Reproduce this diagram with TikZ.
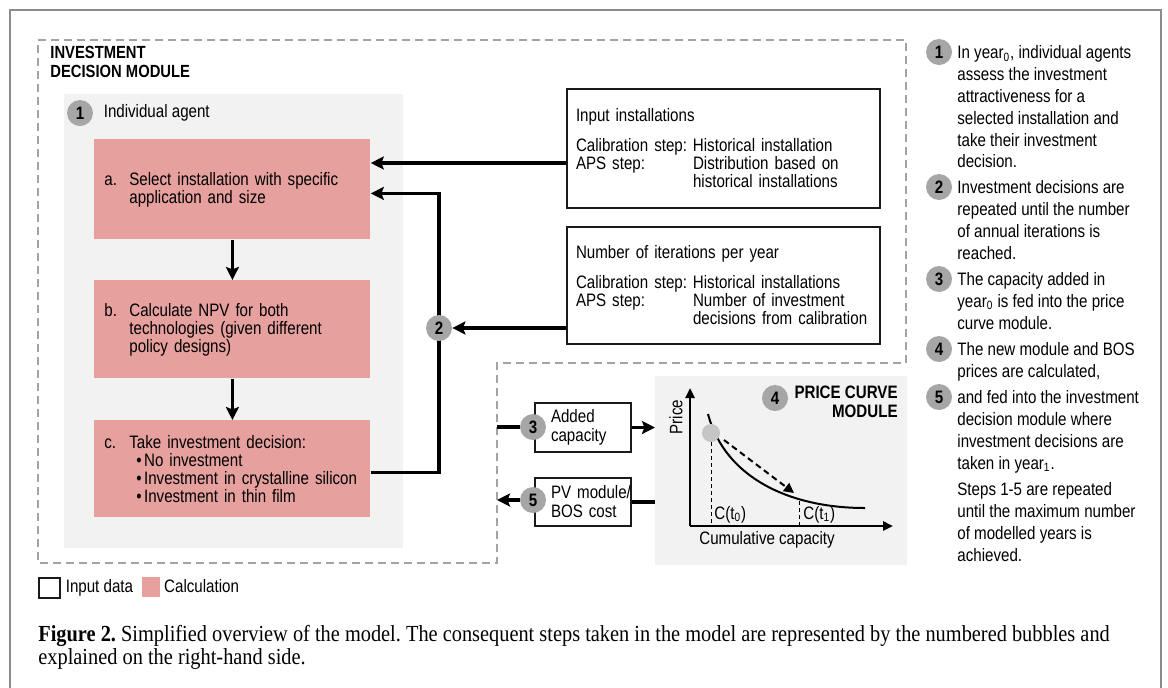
\documentclass[tikz,border=0pt]{standalone}
\usepackage{fontspec}
\setmainfont{Liberation Sans}[FakeStretch=0.84]
\newfontfamily\capfont{Liberation Serif}[FakeStretch=0.885]
\usetikzlibrary{arrows.meta,positioning}
\usepackage{xcolor}
\definecolor{Calc}{HTML}{E6A19E}
\definecolor{Panel}{HTML}{F2F2F2}
\definecolor{Bubble}{HTML}{A6A6A6}
\definecolor{DashGrey}{HTML}{A3A3A3}
\definecolor{Frame}{HTML}{8C8C8C}
\definecolor{Ink}{HTML}{1A1A1A}

\newcommand{\boxlbl}[1]{\makebox[12.5pt][l]{#1}}
\newcommand{\boxgap}{\hspace*{12.5pt}}
\newcommand{\boxcol}[1]{\makebox[58.5pt][l]{#1}}
\frenchspacing

\begin{document}
\begin{tikzpicture}[x=0.5pt,y=-0.5pt,font=\fontsize{9}{9}\selectfont,
  calcbox/.style={fill=Calc,text width=128pt,inner xsep=5pt,inner ysep=0pt,
    align=left,anchor=north west},
  inbox/.style={draw=Ink,line width=1pt,fill=white,align=left,anchor=north west,
    text width=147.5pt,inner xsep=4.5pt,inner ysep=0pt},
  smallbox/.style={draw=Ink,line width=1pt,fill=white,align=left,anchor=north west,
    text width=48pt,inner sep=0pt,font=\fontsize{9}{9.5}\selectfont},
  bubble/.style={circle,fill=Bubble,minimum size=13pt,inner sep=0pt,
    font=\fontsize{9}{9}\selectfont\bfseries},
  flow/.style={line width=1.7pt,-{Stealth[length=6.5pt,width=6.5pt,inset=1.2pt]}},
  link/.style={line width=1.7pt},
  modline/.style={draw=DashGrey,line width=0.9pt,dash pattern=on 4pt off 2.5pt},
  panel/.style={fill=Panel,anchor=north west,inner sep=0pt},
  legtext/.style={inner sep=0pt,text height=6.5pt,text depth=1.8pt},
  note/.style={anchor=north west,align=left,inner sep=0pt,font=\fontsize{9}{10.9}\selectfont}
]
\useasboundingbox (0,0) rectangle (1168,687);
\draw[Frame,line width=0.8pt] (10,700) -- (10,10) -- (1161,10) -- (1161,700);

% investment decision module
\draw[modline] (38,40) -- (906,40) -- (906,363) -- (497,363) -- (497,563) -- (38,563) -- cycle;
\node[anchor=north west,align=left,inner sep=0pt,font=\fontsize{8.8}{9.5}\selectfont\bfseries]
  (idmtitle) at (50,46) {INVESTMENT\\DECISION MODULE};

\node[panel,minimum width=169.5pt,minimum height=227pt] (agent) at (64,94) {};
\node[bubble] (b1) at (80,113) {1};
\node[right=5pt of b1,inner sep=0pt] (agentlbl) {Individual agent};

\node[calcbox,minimum height=50pt] (sel) at (94,139)
  {\boxlbl{a.}Select installation with specific\\\boxgap application and size};
\node[calcbox,minimum height=49pt] (npv) at (94,280)
  {\boxlbl{b.}Calculate NPV for both\\\boxgap technologies (given different\\\boxgap policy designs)};
\node[calcbox,minimum height=48.5pt] (dec) at (94,420)
  {\boxlbl{c.}Take investment decision:\\
   \hspace*{16pt}\textbullet\hspace{1.2pt}No investment\\
   \hspace*{16pt}\textbullet\hspace{1.2pt}Investment in crystalline silicon\\
   \hspace*{16pt}\textbullet\hspace{1.2pt}Investment in thin film};

\node[inbox,minimum height=59.5pt] (inst) at (566,88)
  {Input installations\\[6pt]
   \boxcol{Calibration step:}Historical installation\\
   \boxcol{APS step:}Distribution based on\\
   \hspace*{58.5pt}historical installations};
\node[inbox,minimum height=58.5pt] (iter) at (566,226)
  {Number of iterations per year\\[6pt]
   \boxcol{Calibration step:}Historical installations\\
   \boxcol{APS step:}Number of investment\\
   \hspace*{58.5pt}decisions from calibration};

\draw[flow] (sel) -- (npv);
\draw[flow] (npv) -- (dec);
\draw[flow] ([yshift=-7.25pt]inst.west) -- ([yshift=-7.25pt]inst.west -| sel.east);
\coordinate (b2pos) at (439,328);
\draw[flow] ([yshift=-1.75pt]dec.east) -| (b2pos) |- ([yshift=-2pt]sel.east);
\node[bubble] (b2) at (b2pos) {2};
\draw[flow] (iter.west |- b2) -- (b2.east);

% price curve module
\node[panel,minimum width=126pt,minimum height=94.5pt] (pricepanel) at (655,376) {};
\node[bubble] (b4) at (775,398) {4};
\node[anchor=east,align=right,inner sep=0pt,font=\fontsize{9}{9.5}\selectfont\bfseries]
  (pctitle) at (898,402) {PRICE CURVE\\MODULE};
\coordinate (O) at (690,526);
\draw[line width=1.2pt,-{Triangle[length=5pt,width=4.5pt]}] (O) -- (690,388);
\draw[line width=1.2pt,-{Triangle[length=5pt,width=4.5pt]}] (O) -- (893,526);
\draw[line width=1pt] (708,414) .. controls (725,478) and (790,508) .. (865,508);
\fill[Bubble!65] (711,433) circle (4.5pt);
\draw[line width=0.5pt,dash pattern=on 2pt off 1.5pt] (711,442) -- (711,526);
\draw[line width=0.5pt,dash pattern=on 2pt off 1.5pt] (799,501) -- (799,526);
\draw[line width=1pt,dash pattern=on 3pt off 2pt,-{Triangle[length=5pt,width=5pt]}] (724,440) -- (794,493);
\node[anchor=west,inner sep=0pt] (ct0) at (714,515) {C(t\textsubscript{0})};
\node[anchor=west,inner sep=0pt] (ct1) at (803,515) {C(t\textsubscript{1})};
\node[rotate=90,inner sep=0pt] (pricelbl) at (676,417) {Price};
\node[inner sep=0pt] (cumlbl) at (767,540) {Cumulative capacity};

% exchange between modules
\node[smallbox,minimum height=24.5pt] (added) at (534,402)
  {\hspace*{8pt}Added\\\hspace*{8pt}capacity};
\node[smallbox,minimum height=24pt] (pv) at (534,477)
  {\hspace*{8pt}PV module/\\\hspace*{8pt}BOS cost};
\coordinate (modout) at (497,427);
\coordinate (modin) at (497,500);
\node[bubble] (b3) at (533,427) {3};
\node[bubble] (b5) at (533,500) {5};
\draw[link] (modout) -- (b3);
\draw[flow] (added.east) -- (added.east -| pricepanel.west);
\draw[link] (pv.east -| pricepanel.west) -- (pv.east);
\draw[flow] (b5) -- (modin);

% legend
\node[draw=Ink,line width=1.2pt,minimum width=10.5pt,minimum height=10pt,inner sep=0pt,
  anchor=north west] (leginput) at (38,577) {};
\node[legtext,right=2pt of leginput] (leginputlbl) {Input data};
\node[fill=Calc,minimum width=9pt,minimum height=10pt,inner sep=0pt,anchor=north west]
  (legcalc) at (142,577) {};
\node[legtext,right=1.5pt of legcalc] (legcalclbl) {Calculation};

% steps on the right-hand side
\foreach \n/\y in {1/52,2/187,3/279,4/349,5/397}
  \node[bubble] (nb\n) at (939,\y) {\n};
\node[note] (note1) at (957,45.5) {In year\textsubscript{0}, individual agents\\assess the investment\\
  attractiveness for a\\selected installation and\\take their investment\\decision.};
\node[note] (note2) at (957,180.5) {Investment decisions are\\repeated until the number\\
  of annual iterations is\\reached.};
\node[note] (note3) at (957,272.5) {The capacity added in\\year\textsubscript{0} is fed into the price\\
  curve module.};
\node[note] (note4) at (957,342.5) {The new module and BOS\\prices are calculated,};
\node[note] (note5) at (957,390.5) {and fed into the investment\\decision module where\\
  investment decisions are\\taken in year\textsubscript{1}.};
\node[note] (note6) at (957,482.5) {Steps 1-5 are repeated\\until the maximum number\\
  of modelled years is\\achieved.};

% caption
\node[anchor=north west,align=left,inner sep=0pt,font=\capfont\fontsize{11.5}{11.5}\selectfont]
  (caption) at (38,625) {\textbf{Figure 2.} Simplified overview of the model. The consequent steps
  taken in the model are represented by the numbered bubbles and\\explained on the right-hand side.};
\end{tikzpicture}
\end{document}
